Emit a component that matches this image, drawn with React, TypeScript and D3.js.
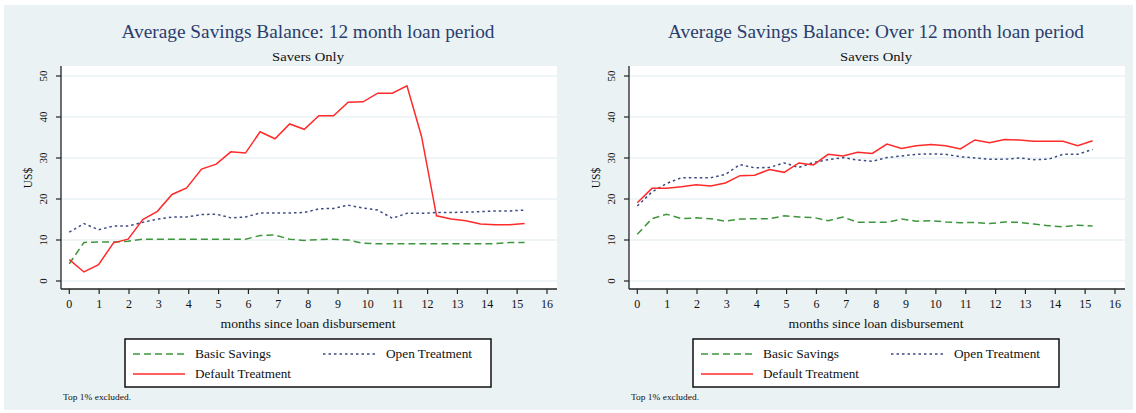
import React from "react";
import * as d3 from "d3";

// ---- data ----
const months = [0, 0.49, 0.98, 1.48, 1.97, 2.46, 2.95, 3.44, 3.93, 4.43, 4.92, 5.41, 5.9, 6.39, 6.89, 7.38, 7.87, 8.36, 8.85, 9.34, 9.84, 10.33, 10.82, 11.31, 11.8, 12.3, 12.79, 13.28, 13.77, 14.26, 14.75, 15.25];

const leftBasic = [4.2, 9.4, 9.5, 9.5, 9.7, 10.2, 10.2, 10.2, 10.2, 10.2, 10.2, 10.2, 10.2, 11.1, 11.2, 10.2, 9.9, 10.1, 10.2, 10.0, 9.2, 9.1, 9.1, 9.1, 9.1, 9.1, 9.1, 9.1, 9.1, 9.1, 9.4, 9.4];
const leftOpen = [11.9, 14.0, 12.5, 13.4, 13.4, 14.3, 15.1, 15.6, 15.6, 16.2, 16.3, 15.4, 15.6, 16.6, 16.6, 16.6, 16.7, 17.6, 17.7, 18.5, 17.8, 17.3, 15.3, 16.5, 16.5, 16.7, 16.7, 16.8, 16.9, 17.1, 17.1, 17.3];
const leftDefault = [5.2, 2.2, 4.0, 9.3, 10.2, 15.0, 17.0, 21.1, 22.7, 27.3, 28.5, 31.5, 31.2, 36.4, 34.7, 38.3, 37.0, 40.3, 40.3, 43.6, 43.7, 45.8, 45.8, 47.6, 35.2, 15.9, 15.1, 14.7, 13.9, 13.7, 13.7, 14.0];

const rightBasic = [11.4, 15.2, 16.3, 15.2, 15.4, 15.2, 14.6, 15.1, 15.2, 15.2, 15.9, 15.6, 15.5, 14.7, 15.6, 14.3, 14.3, 14.3, 15.1, 14.6, 14.7, 14.4, 14.2, 14.3, 14.0, 14.4, 14.3, 13.9, 13.5, 13.2, 13.6, 13.4];
const rightOpen = [18.3, 21.7, 23.8, 25.2, 25.2, 25.2, 26.0, 28.4, 27.6, 27.7, 28.8, 27.7, 28.9, 29.6, 30.1, 29.5, 29.2, 30.1, 30.5, 30.9, 31.0, 30.9, 30.3, 30.0, 29.7, 29.7, 30.0, 29.6, 29.7, 30.9, 30.9, 32.1];
const rightDefault = [19.1, 22.6, 22.6, 23.0, 23.5, 23.2, 23.9, 25.7, 25.8, 27.2, 26.5, 28.8, 28.3, 30.9, 30.5, 31.4, 31.1, 33.4, 32.3, 33.0, 33.3, 33.0, 32.2, 34.4, 33.7, 34.5, 34.4, 34.1, 34.1, 34.1, 33.0, 34.2];

const xTicks = [0, 1, 2, 3, 4, 5, 6, 7, 8, 9, 10, 11, 12, 13, 14, 15, 16];
const yTicks = [0, 10, 20, 30, 40, 50];

const panelTitles = ["Average Savings Balance: 12 month loan period", "Average Savings Balance: Over 12 month loan period"];
const subtitle = "Savers Only";
const xLabel = "months since loan disbursement";
const yLabel = "US$";
const seriesNames = ["Basic Savings", "Open Treatment", "Default Treatment"];
const footnote = "Top 1% excluded.";

const BG = "#eaf2f3";
const GREEN = "#3d963d";
const NAVY = "#3b4a82";
const RED = "#ff2a2a";
const TITLE = "#2b3d6e";
const FONT = "'Liberation Serif', 'DejaVu Serif', serif";

type PanelProps = { ox: number; title: string; titleLen: number; basic: number[]; open: number[]; def: number[] };

function Panel({ ox, title, titleLen, basic, open, def }: PanelProps) {
  const plotL = 61, plotR = 557, plotT = 66, plotB = 289;
  const x = d3.scaleLinear().domain([0, 16]).range([69.3, 547]);
  const y = d3.scaleLinear().domain([0, 50]).range([281, 76]);
  const line = d3.line<number>().x((_, i) => x(months[i])).y((v) => y(v));
  const cx = 308;
  return (
    <g transform={`translate(${ox},0)`} fontFamily={FONT}>
      <text x={cx} y={38} textAnchor="middle" fontSize={18} fill={TITLE} textLength={titleLen} lengthAdjust="spacingAndGlyphs">{title}</text>
      <text x={cx} y={61} textAnchor="middle" fontSize={12.5} fill="#111" textLength={72} lengthAdjust="spacingAndGlyphs">{subtitle}</text>
      <rect x={plotL} y={plotT} width={plotR - plotL} height={plotB - plotT} fill="#fff" />
      {yTicks.map((t) => (
        <line key={"g" + t} x1={plotL} x2={plotR} y1={y(t)} y2={y(t)} stroke={BG} strokeWidth={1.5} />
      ))}
      <path d={line(basic) || ""} fill="none" stroke={GREEN} strokeWidth={1.5} strokeDasharray="7,4" />
      <path d={line(open) || ""} fill="none" stroke={NAVY} strokeWidth={1.5} strokeDasharray="2.5,3" />
      <path d={line(def) || ""} fill="none" stroke={RED} strokeWidth={1.5} />
      {/* axes */}
      <line x1={plotL} x2={plotL} y1={plotT} y2={plotB} stroke="#222" strokeWidth={1.3} />
      <line x1={plotL} x2={plotR} y1={plotB} y2={plotB} stroke="#222" strokeWidth={1.3} />
      {yTicks.map((t) => (
        <g key={"y" + t}>
          <line x1={plotL - 5} x2={plotL} y1={y(t)} y2={y(t)} stroke="#222" strokeWidth={1.2} />
          <text transform={`translate(${47},${y(t)}) rotate(-90)`} textAnchor="middle" fontSize={11} fill="#111">{t}</text>
        </g>
      ))}
      <text transform={`translate(${32},${178}) rotate(-90)`} textAnchor="middle" fontSize={11.5} fill="#111">{yLabel}</text>
      {xTicks.map((t) => (
        <g key={"x" + t}>
          <line x1={x(t)} x2={x(t)} y1={plotB} y2={plotB + 5} stroke="#222" strokeWidth={1.2} />
          <text x={x(t)} y={308} textAnchor="middle" fontSize={12} fill="#111">{t}</text>
        </g>
      ))}
      <text x={cx} y={328} textAnchor="middle" fontSize={12.5} fill="#111" textLength={175} lengthAdjust="spacingAndGlyphs">{xLabel}</text>
      {/* legend */}
      <rect x={125} y={339} width={366} height={48} fill="#fff" stroke="#111" strokeWidth={1.5} />
      <line x1={133} x2={185} y1={354} y2={354} stroke={GREEN} strokeWidth={1.5} strokeDasharray="7,4" />
      <text x={195} y={358} fontSize={12.5} fill="#111" textLength={76} lengthAdjust="spacingAndGlyphs">{seriesNames[0]}</text>
      <line x1={323} x2={378} y1={354} y2={354} stroke={NAVY} strokeWidth={1.5} strokeDasharray="2.5,3" />
      <text x={386} y={358} fontSize={12.5} fill="#111" textLength={86} lengthAdjust="spacingAndGlyphs">{seriesNames[1]}</text>
      <line x1={133} x2={185} y1={374} y2={374} stroke={RED} strokeWidth={1.5} />
      <text x={195} y={378} fontSize={12.5} fill="#111" textLength={96} lengthAdjust="spacingAndGlyphs">{seriesNames[2]}</text>
      <text x={63} y={400} fontSize={8} fill="#111" textLength={68} lengthAdjust="spacingAndGlyphs">{footnote}</text>
    </g>
  );
}

export default function App() {
  return (
    <svg width={1136} height={413} style={{ position: "absolute", left: 0, top: 0, background: "#fff" }}>
      <rect x={4} y={5} width={1129} height={405} fill={BG} />
      <Panel ox={0} title={panelTitles[0]} titleLen={373} basic={leftBasic} open={leftOpen} def={leftDefault} />
      <Panel ox={568} title={panelTitles[1]} titleLen={416} basic={rightBasic} open={rightOpen} def={rightDefault} />
    </svg>
  );
}
